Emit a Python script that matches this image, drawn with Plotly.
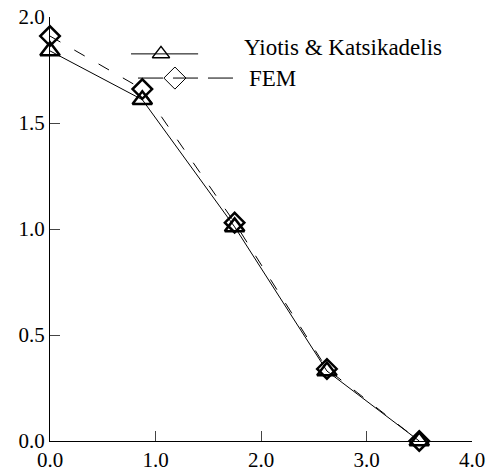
import plotly.graph_objects as go

# ---- data ----
x_vals = [0.0, 0.875, 1.75, 2.625, 3.5]
yiotis = [1.84, 1.61, 1.01, 0.33, 0.0]
fem = [1.91, 1.66, 1.03, 0.34, 0.0]
series_names = ["Yiotis & Katsikadelis", "FEM"]
x_ticks = [0, 1, 2, 3, 4]
x_ticklabels = ["0.0", "1.0", "2.0", "3.0", "4.0"]
y_ticks = [0, 0.5, 1.0, 1.5, 2.0]
y_ticklabels = ["0.0", "0.5", "1.0", "1.5", "2.0"]

FONT = "Liberation Serif"

fig = go.Figure()

fig.add_trace(go.Scatter(
    x=x_vals, y=fem, mode="lines+markers", name=series_names[1],
    line=dict(color="black", width=1, dash="12px,16px"),
    marker=dict(symbol="diamond-open", size=15, color="black", line=dict(width=2.5)),
    cliponaxis=False, showlegend=False))
fig.add_trace(go.Scatter(
    x=x_vals, y=yiotis, mode="lines+markers", name=series_names[0],
    line=dict(color="black", width=1),
    marker=dict(symbol="triangle-up-open", size=17, color="black", line=dict(width=2.5)),
    cliponaxis=False, showlegend=False))

# ---- manual legend (paper-like overlay axes) ----
leg = dict(
    y1=0.913, y2=0.856,
    line1=(0.192, 0.351), line2=(0.2085, 0.438),
    m1=0.263, m2=0.296, text_x=0.455,
)
fig.add_shape(type="line", xref="paper", yref="paper", x0=leg["line1"][0], x1=leg["line1"][1],
              y0=leg["y1"], y1=leg["y1"], line=dict(color="black", width=1))
fig.add_shape(type="line", xref="paper", yref="paper", x0=leg["line2"][0], x1=leg["line2"][1],
              y0=leg["y2"], y1=leg["y2"], line=dict(color="black", width=1, dash="25px,10px"))
fig.add_trace(go.Scatter(
    x=[leg["m1"]], y=[leg["y1"]], xaxis="x2", yaxis="y2", mode="markers",
    marker=dict(symbol="triangle-up", size=15, color="white", line=dict(color="black", width=1.5)),
    cliponaxis=False, showlegend=False, hoverinfo="skip"))
fig.add_trace(go.Scatter(
    x=[leg["m2"]], y=[leg["y2"]], xaxis="x2", yaxis="y2", mode="markers",
    marker=dict(symbol="diamond", size=17, color="white", line=dict(color="black", width=1)),
    cliponaxis=False, showlegend=False, hoverinfo="skip"))
fig.add_annotation(xref="paper", yref="paper", x=leg["text_x"], y=leg["y1"] + 0.016,
                   text=series_names[0], showarrow=False, xanchor="left", yanchor="middle",
                   font=dict(family=FONT, size=23, color="black"))
fig.add_annotation(xref="paper", yref="paper", x=leg["text_x"] + 0.012, y=leg["y2"],
                   text=series_names[1], showarrow=False, xanchor="left", yanchor="middle",
                   font=dict(family=FONT, size=23, color="black"))

axis_common = dict(
    showline=True, linecolor="black", linewidth=1, showgrid=False, zeroline=False,
    ticks="inside", ticklen=10, tickcolor="#444", tickwidth=1, automargin=False,
    tickfont=dict(family=FONT, size=21, color="black"),
)
fig.update_layout(
    width=487, height=476,
    margin=dict(l=50, r=15, t=17, b=35),
    paper_bgcolor="white", plot_bgcolor="white",
    font=dict(family=FONT),
    showlegend=False,
    xaxis=dict(range=[0, 4], tickvals=x_ticks, ticktext=x_ticklabels, **axis_common),
    yaxis=dict(range=[0, 2], tickvals=y_ticks, ticktext=y_ticklabels, **axis_common),
    xaxis2=dict(range=[0, 1], overlaying="x", visible=False),
    yaxis2=dict(range=[0, 1], overlaying="y", visible=False),
)

fig.write_html("out.html", config={"displayModeBar": False},
               post_script="document.body.style.margin='0';")
